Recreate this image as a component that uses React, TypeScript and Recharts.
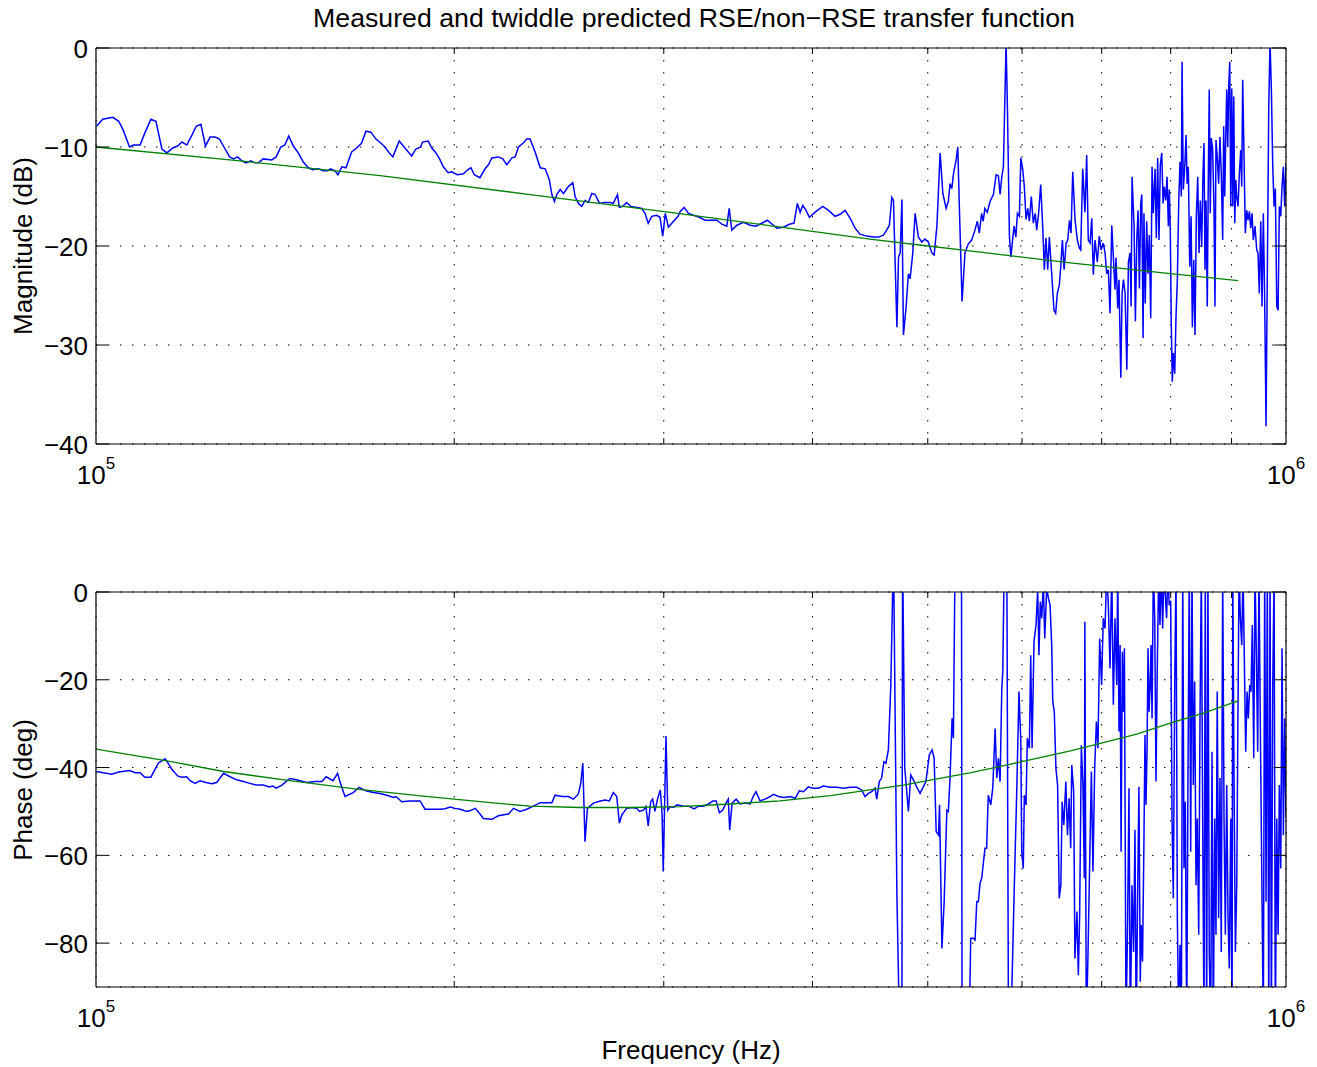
import React from 'react';
import { LineChart, Line, XAxis, YAxis, CartesianGrid } from 'recharts';

const FONT = '"Liberation Sans", Arial, Helvetica, sans-serif';

// ---- Measured magnitude (frequency in kHz, magnitude in dB) ----
const magFreqKHz = [
  100.1, 101.3, 103.3, 104.5, 105.4, 106.7, 107.5, 108.9, 109.9, 111.2,
  112.3, 113.6, 114.7, 116.0, 117.1, 118.1, 119.2, 120.4, 121.4, 122.5,
  123.6, 124.7, 125.9, 127.0, 128.1, 129.5, 130.5, 131.5, 132.6, 133.7,
  134.9, 136.0, 136.9, 138.2, 140.5, 141.7, 143.0, 144.1, 145.2, 146.5,
  147.9, 149.3, 150.8, 152.1, 153.8, 155.2, 156.5, 157.5, 158.8, 159.7,
  160.9, 162.2, 164.0, 165.6, 167.2, 168.6, 170.2, 171.9, 173.5, 174.9,
  176.4, 177.6, 179.8, 181.8, 184.2, 185.7, 187.4, 188.1, 190.2, 191.5,
  193.1, 194.6, 195.8, 197.7, 199.0, 201.2, 203.6, 205.2, 206.6, 207.9,
  210.2, 212.3, 213.7, 215.1, 217.8, 219.7, 221.4, 223.6, 225.0, 226.5,
  228.6, 230.1, 231.6, 233.9, 236.2, 238.5, 240.4, 241.6, 242.8, 243.9,
  245.5, 247.1, 249.4, 251.6, 252.7, 254.3, 256.0, 257.6, 259.3, 261.0,
  262.7, 264.9, 267.3, 270.4, 272.1, 274.3, 275.3, 277.1, 279.2, 281.4,
  284.7, 287.5, 289.3, 291.1, 293.1, 295.9, 297.8, 299.4, 300.9, 302.7,
  305.7, 308.4, 309.7, 312.1, 314.7, 317.7, 321.4, 325.0, 328.2, 332.5,
  335.7, 338.9, 340.5, 342.2, 345.6, 350.0, 354.6, 358.6, 362.6, 366.6,
  370.9, 373.4, 378.1, 382.5, 386.0, 388.5, 390.6, 392.6, 395.1, 397.6,
  402.8, 408.1, 412.6, 417.9, 422.0, 426.1, 430.3, 434.4, 438.5, 444.3,
  450.0, 454.4, 458.8, 461.8, 464.2, 466.4, 467.9, 471.0, 472.5, 474.0,
  475.6, 477.0, 479.5, 481.6, 483.2, 485.7, 487.9, 491.0, 494.2, 497.3,
  500.5, 503.9, 506.2, 508.9, 512.1, 514.8, 518.1, 520.3, 522.0, 523.8,
  525.4, 528.2, 529.9, 531.5, 534.3, 537.3, 540.7, 544.3, 547.8, 550.3,
  552.4, 554.9, 556.6, 558.4, 561.0, 564.0, 567.7, 570.7, 573.2, 575.1,
  577.0, 578.8, 581.8, 583.3, 585.6, 587.2, 589.4, 590.9, 592.9, 594.7,
  597.0, 598.6, 600.8, 602.7, 604.7, 606.7, 608.6, 610.9, 613.3, 615.6,
  617.3, 619.6, 622.1, 624.5, 626.5, 628.5, 630.6, 632.6, 635.5, 638.3,
  640.4, 642.4, 645.0, 646.7, 648.8, 650.9, 653.5, 655.6, 657.7, 659.7,
  661.9, 664.9, 667.8, 670.4, 672.2, 674.8, 677.7, 680.0, 682.1, 684.4,
  686.7, 688.8, 691.1, 694.1, 696.8, 699.1, 702.2, 704.6, 706.9, 709.1,
  711.4, 713.8, 716.0, 718.3, 719.7, 722.1, 723.9, 726.4, 728.2, 730.1,
  732.5, 734.9, 737.2, 739.6, 741.0, 742.4, 745.3, 747.2, 749.2, 751.1,
  753.0, 755.0, 756.5, 758.4, 759.7, 761.6, 763.7, 765.7, 767.6, 769.7,
  771.7, 773.6, 776.2, 778.1, 780.1, 782.1, 784.1, 786.3, 788.3, 790.3,
  792.4, 794.4, 796.4, 797.9, 799.4, 800.9, 802.5, 804.1, 806.3, 808.3,
  810.4, 812.6, 814.6, 816.7, 817.8, 819.8, 822.1, 824.2, 825.8, 827.8,
  830.1, 832.2, 834.3, 836.5, 838.6, 840.7, 843.0, 845.1, 847.2, 849.5,
  851.6, 853.3, 854.9, 856.6, 858.7, 860.3, 862.0, 863.7, 865.4, 867.7,
  869.9, 871.6, 873.3, 875.4, 877.8, 880.0, 882.3, 884.7, 886.4, 888.2,
  889.9, 891.6, 893.4, 895.1, 896.9, 898.6, 900.4, 902.1, 903.9, 905.6,
  907.4, 909.1, 911.4, 913.7, 916.1, 917.9, 919.6, 922.0, 924.3, 926.9,
  929.2, 931.6, 934.1, 936.4, 938.7, 941.8, 945.0, 947.3, 949.7, 952.3,
  954.7, 957.1, 959.6, 962.1, 964.5, 967.2, 969.6, 972.1, 974.7, 977.2,
  979.6, 982.3, 984.8, 987.2, 989.9, 992.4, 994.9, 997.5, 1000,
];
const magDb = [
  -7.9, -7.2, -7.0, -7.4, -8.3, -10.0, -9.8, -9.8, -8.6, -7.2,
  -7.4, -10.2, -10.6, -10.1, -9.9, -9.5, -9.8, -8.8, -7.9, -7.7,
  -9.9, -9.0, -9.0, -9.2, -10.0, -11.0, -11.2, -11.0, -11.4, -11.6,
  -11.4, -11.6, -11.6, -11.2, -11.3, -11.0, -10.0, -9.8, -8.9, -9.9,
  -10.6, -11.5, -12.1, -12.3, -12.2, -12.4, -12.4, -12.2, -12.4, -12.8,
  -12.0, -12.1, -10.5, -10.1, -9.6, -8.4, -8.5, -9.2, -9.6, -10.0,
  -10.6, -11.0, -9.4, -10.1, -10.9, -10.2, -10.0, -9.5, -9.4, -10.1,
  -10.6, -11.3, -12.0, -12.6, -12.5, -12.8, -12.7, -12.3, -12.1, -12.8,
  -13.1, -12.2, -11.8, -11.1, -11.0, -11.2, -11.8, -11.1, -11.0, -10.0,
  -9.6, -9.2, -9.2, -10.5, -12.1, -12.2, -13.3, -14.8, -15.5, -14.8,
  -14.3, -14.7, -14.0, -13.6, -15.0, -15.7, -16.0, -15.4, -15.6, -14.7,
  -14.8, -15.7, -15.6, -15.6, -15.7, -14.8, -16.1, -16.0, -15.6, -16.0,
  -16.1, -16.2, -16.7, -17.7, -17.0, -16.9, -17.1, -19.0, -16.7, -18.1,
  -17.5, -17.0, -16.5, -16.1, -16.7, -16.9, -17.1, -17.4, -17.4, -17.4,
  -17.8, -18.0, -16.2, -18.4, -17.9, -17.6, -17.9, -18.0, -17.7, -17.4,
  -17.9, -18.2, -18.1, -17.8, -17.7, -15.7, -16.6, -15.9, -16.4, -17.1,
  -16.5, -16.0, -16.4, -17.0, -16.8, -16.4, -17.2, -18.2, -18.8, -19.0,
  -19.1, -19.1, -18.9, -18.4, -17.9, -15.1, -15.4, -28.2, -21.1, -20.7,
  -15.3, -29.0, -26.1, -22.8, -23.3, -20.7, -16.7, -19.1, -19.6, -19.3,
  -19.6, -20.7, -20.9, -18.0, -10.6, -14.7, -16.2, -15.5, -13.7, -14.2,
  -12.8, -11.3, -10.0, -16.0, -25.6, -20.7, -19.8, -19.4, -18.4, -17.5,
  -18.7, -16.7, -17.5, -16.2, -16.6, -15.5, -14.8, -12.8, -12.9, -14.8,
  -13.0, -12.0, 0.5, -5.9, -19.1, -21.1, -19.2, -18.0, -19.1, -16.7,
  -17.0, -11.1, -12.2, -14.0, -17.3, -16.2, -17.5, -15.0, -17.7, -16.7,
  -18.4, -16.7, -13.8, -18.0, -22.4, -19.2, -22.4, -19.1, -22.8, -26.5,
  -26.8, -24.8, -23.9, -22.1, -19.4, -22.4, -19.7, -19.4, -17.4, -18.7,
  -12.5, -17.4, -19.4, -20.2, -20.4, -12.2, -16.6, -10.8, -19.4, -19.7,
  -17.2, -22.9, -19.4, -21.6, -19.0, -20.4, -19.7, -20.7, -22.8, -22.4,
  -26.8, -17.9, -21.1, -24.4, -21.2, -26.3, -23.4, -33.3, -24.8, -23.4,
  -24.8, -32.5, -21.6, -20.7, -26.1, -13.0, -18.0, -27.6, -19.4, -16.4,
  -24.3, -15.7, -14.8, -29.3, -16.7, -25.8, -17.5, -22.8, -18.9, -27.3,
  -12.0, -16.7, -12.2, -19.2, -11.1, -19.4, -11.8, -10.6, -15.7, -14.0,
  -15.4, -13.0, -18.0, -14.3, -18.4, -27.8, -33.7, -30.8, -32.9, -27.1,
  -23.4, -15.4, -11.5, -15.0, -1.4, -14.3, -12.0, -8.8, -13.7, -12.0,
  -22.1, -17.0, -28.2, -21.4, -29.0, -17.0, -13.0, -20.7, -15.4, -20.1,
  -12.7, -9.6, -22.4, -15.4, -26.1, -14.0, -4.2, -16.7, -9.1, -10.3,
  -16.0, -26.1, -9.3, -11.0, -13.7, -9.0, -12.7, -19.4, -7.9, -15.0,
  -9.3, -4.2, -10.0, -3.9, -1.4, -16.0, -4.1, -16.0, -4.9, -17.7,
  -13.3, -15.0, -16.0, -12.7, -10.3, -14.0, -3.2, -11.0, -18.7, -16.4,
  -17.4, -16.5, -18.2, -16.7, -19.4, -18.0, -20.4, -20.7, -24.8, -17.5,
  -26.1, -16.7, -25.5, -38.2, -22.8, -5.9, 0.5, -4.2, -12.0, -16.0,
  -14.2, -26.1, -26.5, -16.0, -17.0, -14.0, -12.0, -16.0, -11.6,
];

// ---- Measured phase (frequency in kHz, phase in degrees) ----
const phaseFreqKHz = [
  100.1, 101.4, 103.1, 104.5, 106.7, 107.9, 108.9, 109.9, 111.2, 112.8,
  114.3, 114.8, 115.8, 117.1, 118.1, 119.2, 120.0, 121.1, 122.3, 123.7,
  125.1, 126.3, 128.0, 129.6, 131.3, 133.0, 134.7, 136.5, 138.2, 139.8,
  140.8, 141.7, 143.3, 145.5, 147.4, 150.3, 152.8, 154.8, 156.1, 158.2,
  159.6, 160.3, 161.9, 164.5, 166.4, 168.6, 171.0, 173.3, 175.5, 177.8,
  178.7, 180.7, 183.6, 187.2, 189.0, 192.1, 194.6, 196.5, 198.4, 200.3,
  202.3, 204.9, 206.3, 208.3, 210.0, 211.6, 213.8, 215.1, 217.8, 222.1,
  224.3, 227.2, 230.1, 233.1, 236.2, 239.2, 241.6, 243.1, 246.3, 249.4,
  251.9, 254.3, 255.5, 256.5, 257.6, 258.8, 261.8, 265.3, 267.8, 270.0,
  272.1, 273.9, 275.3, 276.6, 279.2, 282.0, 284.7, 286.2, 288.4, 289.8,
  291.1, 292.5, 293.6, 294.9, 296.5, 298.0, 299.0, 299.7, 301.3, 302.3,
  303.7, 305.7, 307.7, 311.7, 314.7, 318.2, 320.8, 324.0, 327.1, 329.9,
  332.0, 334.1, 336.3, 338.4, 339.9, 340.8, 342.4, 345.1, 347.8, 351.2,
  354.6, 356.8, 358.6, 361.4, 365.0, 368.6, 370.9, 374.5, 378.6, 383.0,
  386.8, 390.0, 393.1, 396.8, 400.2, 404.6, 408.6, 414.0, 419.4, 424.7,
  430.3, 435.8, 439.9, 442.8, 445.7, 448.6, 451.5, 453.0, 455.2, 457.3,
  459.3, 461.1, 463.3, 465.5, 467.9, 471.0, 473.4, 475.6, 476.2, 478.2,
  481.6, 483.8, 486.3, 489.4, 492.6, 495.7, 498.2, 501.5, 504.2, 506.2,
  508.2, 510.5, 511.5, 513.9, 516.1, 518.8, 520.3, 522.0, 524.1, 525.4,
  527.2, 533.7, 534.3, 541.8, 543.3, 546.1, 547.9, 549.7, 551.4, 553.2,
  555.0, 558.5, 560.3, 562.1, 564.8, 567.0, 569.6, 571.4, 573.2, 575.1,
  577.0, 578.1, 579.9, 582.6, 584.5, 587.2, 590.9, 593.9, 596.5, 598.6,
  599.7, 601.5, 602.7, 604.7, 606.2, 608.6, 610.2, 611.8, 614.1, 616.5,
  618.5, 620.0, 621.6, 623.3, 625.3, 627.0, 629.4, 631.4, 633.5, 635.5,
  636.8, 638.7, 640.7, 642.8, 644.8, 646.8, 648.5, 650.6, 653.1, 655.2,
  657.2, 659.3, 660.6, 663.1, 664.7, 667.3, 669.1, 670.8, 673.0, 675.1,
  676.9, 677.6, 679.5, 681.7, 683.9, 686.2, 688.3, 690.6, 692.9, 695.0,
  697.3, 699.9, 702.2, 704.6, 706.9, 709.1, 711.4, 713.8, 716.0, 718.3,
  720.7, 722.1, 723.9, 725.4, 726.8, 728.6, 730.1, 731.5, 733.8, 736.1,
  738.0, 739.9, 742.3, 744.6, 746.6, 748.4, 750.3, 752.3, 754.3, 755.7,
  757.6, 759.6, 761.2, 762.7, 764.2, 765.7, 767.2, 768.7, 770.2, 771.7,
  773.6, 775.7, 777.6, 779.6, 781.7, 783.6, 785.6, 787.7, 789.6, 793.7,
  795.7, 797.7, 800.0, 802.1, 804.1, 806.3, 808.3, 810.4, 812.6, 814.6,
  816.7, 818.9, 820.9, 823.0, 825.2, 827.3, 829.3, 831.6, 833.7, 835.8,
  838.0, 840.2, 842.3, 844.6, 846.7, 848.9, 851.1, 853.3, 855.4, 857.7,
  859.8, 862.0, 864.4, 866.6, 868.8, 871.1, 873.3, 875.4, 877.8, 880.0,
  882.3, 884.7, 887.0, 889.3, 891.6, 893.9, 896.1, 898.6, 900.9, 902.1,
  904.4, 906.7, 909.1, 910.9, 913.2, 915.5, 917.9, 920.2, 922.5, 925.0,
  927.4, 929.7, 932.2, 934.5, 936.9, 939.5, 941.8, 944.2, 946.7, 949.0,
  951.4, 957.1, 959.6, 962.1, 964.5, 967.2, 969.6, 972.1, 974.7, 977.2,
  979.6, 982.3, 984.8, 987.2, 989.9, 992.4, 994.9, 997.5, 1000,
];
const phaseDeg = [
  -40.9, -41.2, -41.5, -41.0, -40.7, -41.2, -41.2, -42.2, -42.2, -39.0,
  -38.0, -38.7, -40.4, -41.9, -42.2, -42.1, -43.0, -43.6, -43.0, -43.4,
  -43.7, -43.4, -41.3, -42.1, -42.8, -43.2, -43.6, -44.0, -44.0, -44.4,
  -44.2, -44.7, -44.0, -42.5, -42.8, -43.4, -43.2, -43.2, -42.1, -43.0,
  -41.3, -43.2, -46.6, -45.7, -44.5, -45.3, -45.7, -45.9, -46.3, -46.8,
  -46.6, -47.8, -47.6, -47.6, -49.5, -49.5, -49.5, -49.4, -49.0, -49.3,
  -49.5, -50.0, -49.8, -49.3, -50.4, -51.6, -51.7, -51.8, -51.0, -50.6,
  -49.3, -50.0, -49.5, -48.8, -48.0, -48.0, -48.0, -46.3, -46.6, -46.6,
  -47.2, -46.0, -43.6, -39.0, -56.9, -49.3, -48.1, -47.6, -47.4, -47.6,
  -45.7, -46.6, -52.7, -50.8, -49.3, -49.1, -49.3, -50.0, -49.7, -48.9,
  -53.3, -47.8, -47.2, -50.0, -47.0, -45.1, -50.4, -63.7, -32.8, -49.7,
  -48.9, -49.1, -48.5, -48.8, -48.8, -49.4, -48.8, -48.8, -48.3, -47.6,
  -47.6, -50.3, -49.7, -48.1, -47.2, -54.2, -48.1, -47.2, -48.3, -48.1,
  -48.3, -46.5, -45.5, -47.6, -47.2, -46.6, -46.1, -46.6, -46.8, -46.6,
  -47.0, -45.3, -45.5, -44.4, -44.7, -44.7, -44.2, -44.5, -44.5, -44.7,
  -44.5, -44.5, -45.1, -46.6, -45.9, -45.5, -44.7, -47.2, -43.2, -42.4,
  -38.7, -39.0, -36.0, -21.2, 10, -69.0, -100, -100, 10, -40.0,
  -50.0, -41.7, -42.8, -44.4, -45.9, -44.4, -43.2, -37.1, -36.0, -37.9,
  -54.6, -55.4, -48.5, -81.2, -70.6, -49.7, -50.0, -42.4, -28.8, -33.3,
  10, 10, -100, -100, -78.9, -78.9, -79.3, -70.6, -70.6, -66.4,
  -65.2, -58.4, -58.4, -46.3, -48.5, -44.7, -31.1, -42.4, -37.9, -43.2,
  -21.9, -18.2, 10, 10, -100, -100, -69.0, -45.5, -22.7, -34.1,
  -59.1, -63.0, -46.3, -48.5, -33.3, -35.6, -14.4, -35.6, -11.3, -7.5,
  0.5, -14.4, -2.2, -6.0, 2, -10.6, 1, -1.4, -3.0, -12.1,
  -25.0, -27.3, -40.2, -44.0, -69.8, -66.8, -47.8, -53.1, -43.2, -55.4,
  -47.0, -58.4, -39.4, -45.5, -83.5, -72.8, -87.3, -73.6, -34.9, -44.0,
  -65.2, -6.8, -100, -82.7, -62.2, -40.9, -63.7, -40.2, -29.5, -35.6,
  -10.6, -21.2, -6.0, -8.3, 5, -3.0, -17.4, 5, -25.7, -6.0,
  -21.2, 5, -31.8, -12.1, -59.2, -13.6, -27.3, -12.8, -100, -74.3,
  -44.7, -100, -66.8, -82.0, -54.2, -100, -71.3, -44.4, -88.8, -75.9,
  -84.2, -57.6, -32.6, -48.5, -36.4, -12.8, -27.3, -21.9, -12.1, -28.8,
  5, -6.0, -43.2, -16.6, 5, -7.5, 5, -8.3, 5, -6.0,
  5, -3.0, -2, -51.6, -69.8, -21.2, 5, -74.3, -100, -80.4,
  -100, 5, -63.0, -47.8, -100, -40.9, 5, -59.2, 5, -44.0,
  -20.4, -66.8, -51.6, -78.1, -28.8, 5, -51.6, -100, 5, -100,
  5, -82.0, -100, -36.4, -100, -51.6, -78.1, -22.7, -74.3, -42.4,
  -82.0, 5, -51.6, -78.1, -44.0, -74.3, -85.8, -51.6, -100, 5,
  -44.0, -82.0, -66.8, -33.3, 5, -6.0, -12.1, 5, -15.1, -36.4,
  -22.7, -28.8, -21.2, -22.7, -7.5, -37.9, 5, -13.6, -36.4, 5,
  -28.8, -100, 5, -70.6, 5, -100, 5, -100, -21.2, 5,
  -100, -51.6, -78.1, -44.0, -63.0, -12.8, -55.4, -28.8, -51.6,
];

// ---- Twiddle prediction (green) ----
const fitMagFreqKHz = [100, 132.2, 173.3, 231.6, 303.7, 392.9, 447.0, 500.2, 542.3, 658.9, 799.2, 911.4];
const fitMagDb = [-10.0, -11.4, -12.9, -14.8, -16.6, -18.4, -19.3, -20.0, -20.5, -21.7, -22.8, -23.5];

const fitPhaseFreqKHz = [
  100, 114.4, 128.0, 145.5, 165.6, 188.3, 214.5, 231.6, 255.2, 281.0, 309.7, 341.0, 375.8,
  414.0, 447.0, 477.0, 508.9, 542.3, 578.3, 617.3, 658.9, 702.2, 749.2, 799.2, 852.6, 911.4,
];
const fitPhaseDeg = [
  -35.8, -38.4, -40.9, -43.0, -44.9, -46.5, -48.0, -48.8, -49.1, -49.1, -48.9, -48.3, -47.6,
  -46.4, -45.1, -44.0, -42.6, -41.2, -39.6, -37.9, -36.2, -34.3, -32.4, -29.9, -27.6, -24.8,
];

// ---- Axes ----
const freqTicks = [100000, 200000, 300000, 400000, 500000, 600000, 700000, 800000, 900000, 1000000];
const decadeExponent: Record<number, string> = { 100000: '5', 1000000: '6' };
const magTicks = [-40, -30, -20, -10, 0];
const phaseTicks = [-80, -60, -40, -20, 0];

const TITLE = 'Measured and twiddle predicted RSE/non\u2212RSE transfer function';
const MAG_LABEL = 'Magnitude (dB)';
const PHASE_LABEL = 'Phase (deg)';
const X_LABEL = 'Frequency (Hz)';

const toSeries = (fk: number[], v: number[]) => {
  const n = Math.min(fk.length, v.length);
  const out: { f: number; v: number }[] = [];
  for (let i = 0; i < n; i++) out.push({ f: fk[i] * 1000, v: v[i] });
  return out;
};

const magMeasured = toSeries(magFreqKHz, magDb);
const magFit = toSeries(fitMagFreqKHz, fitMagDb);
const phaseMeasured = toSeries(phaseFreqKHz, phaseDeg);
const phaseFit = toSeries(fitPhaseFreqKHz, fitPhaseDeg);

const fmt = (v: number) => (v < 0 ? '\u2212' + Math.abs(v) : String(v));

function BottomTick(props: any) {
  const { x, y, payload } = props;
  const exp = decadeExponent[payload.value];
  return (
    <g>
      {!exp && <line x1={x} x2={x} y1={y} y2={y - 6} stroke="#000" strokeWidth={1} />}
      {exp && (
        <text x={x} y={y + 40} textAnchor="middle" fontSize={26} fontFamily={FONT} fill="#000">
          10
          <tspan dy={-15} fontSize={17}>
            {exp}
          </tspan>
        </text>
      )}
    </g>
  );
}

function TopTick(props: any) {
  const { x, y, payload } = props;
  const exp = decadeExponent[payload.value];
  if (exp) return <g />;
  return <line x1={x} x2={x} y1={y} y2={y + 6} stroke="#000" strokeWidth={1} />;
}

function LeftTick(props: any) {
  const { x, y, payload } = props;
  return (
    <g>
      <line x1={x} x2={x + 12} y1={y} y2={y} stroke="#000" strokeWidth={1} />
      <text x={x - 8} y={y + 10} textAnchor="end" fontSize={26} fontFamily={FONT} fill="#000">
        {fmt(payload.value)}
      </text>
    </g>
  );
}

function RightTick(props: any) {
  const { x, y } = props;
  return <line x1={x} x2={x - 12} y1={y} y2={y} stroke="#000" strokeWidth={1} />;
}

type PanelProps = {
  height: number;
  marginTop: number;
  marginBottom: number;
  measured: { f: number; v: number }[];
  fit: { f: number; v: number }[];
  yDomain: [number, number];
  yTicks: number[];
};

function Panel({ height, marginTop, marginBottom, measured, fit, yDomain, yTicks }: PanelProps) {
  return (
    <LineChart width={1317} height={height} margin={{ top: marginTop, right: 30, bottom: marginBottom, left: 16 }}>
      <CartesianGrid xAxisId="b" yAxisId="l" stroke="#000" strokeWidth={1} strokeDasharray="1.5 10.5" />
      <XAxis
        xAxisId="b"
        type="number"
        dataKey="f"
        scale="log"
        domain={[100000, 1000000]}
        ticks={freqTicks}
        interval={0}
        allowDataOverflow
        height={40}
        tickSize={0}
        tickMargin={0}
        tickLine={false}
        axisLine={{ stroke: '#000', strokeWidth: 1.2 }}
        tick={BottomTick}
      />
      <XAxis
        xAxisId="t"
        orientation="top"
        type="number"
        dataKey="f"
        scale="log"
        domain={[100000, 1000000]}
        ticks={freqTicks}
        interval={0}
        allowDataOverflow
        height={1}
        tickSize={0}
        tickMargin={0}
        tickLine={false}
        axisLine={{ stroke: '#000', strokeWidth: 1.2 }}
        tick={TopTick}
      />
      <YAxis
        yAxisId="l"
        type="number"
        domain={yDomain}
        ticks={yTicks}
        interval={0}
        allowDataOverflow
        width={80}
        tickSize={0}
        tickMargin={0}
        tickLine={false}
        axisLine={{ stroke: '#000', strokeWidth: 1.2 }}
        tick={LeftTick}
      />
      <YAxis
        yAxisId="r"
        orientation="right"
        type="number"
        domain={yDomain}
        ticks={yTicks}
        interval={0}
        allowDataOverflow
        width={1}
        tickSize={0}
        tickMargin={0}
        tickLine={false}
        axisLine={{ stroke: '#000', strokeWidth: 1.2 }}
        tick={RightTick}
      />
      <Line
        xAxisId="b"
        yAxisId="l"
        data={measured}
        dataKey="v"
        type="linear"
        stroke="#0000ff"
        strokeWidth={1.5}
        dot={false}
        activeDot={false}
        isAnimationActive={false}
      />
      <Line
        xAxisId="b"
        yAxisId="l"
        data={fit}
        dataKey="v"
        type="linear"
        stroke="#008000"
        strokeWidth={1.3}
        dot={false}
        activeDot={false}
        isAnimationActive={false}
      />
    </LineChart>
  );
}

export default function App() {
  return (
    <div style={{ position: 'absolute', left: 0, top: 0, width: 1317, height: 1067, background: '#fff' }}>
      <div style={{ position: 'absolute', left: 0, top: 0 }}>
        <Panel height={520} marginTop={47} marginBottom={36} measured={magMeasured} fit={magFit} yDomain={[-40, 0]} yTicks={magTicks} />
      </div>
      <div style={{ position: 'absolute', left: 0, top: 520 }}>
        <Panel height={547} marginTop={71} marginBottom={40} measured={phaseMeasured} fit={phaseFit} yDomain={[-90, 0]} yTicks={phaseTicks} />
      </div>
      <svg width={1317} height={1067} style={{ position: 'absolute', left: 0, top: 0, pointerEvents: 'none' }}>
        <text x={694} y={27} textAnchor="middle" fontSize={26.7} fontFamily={FONT} fill="#000">
          {TITLE}
        </text>
        <text x={32} y={246} transform="rotate(-90 32 246)" textAnchor="middle" fontSize={26} fontFamily={FONT} fill="#000">
          {MAG_LABEL}
        </text>
        <text x={32} y={790} transform="rotate(-90 32 790)" textAnchor="middle" fontSize={26} fontFamily={FONT} fill="#000">
          {PHASE_LABEL}
        </text>
        <text x={691} y={1059} textAnchor="middle" fontSize={26} fontFamily={FONT} fill="#000">
          {X_LABEL}
        </text>
      </svg>
    </div>
  );
}
